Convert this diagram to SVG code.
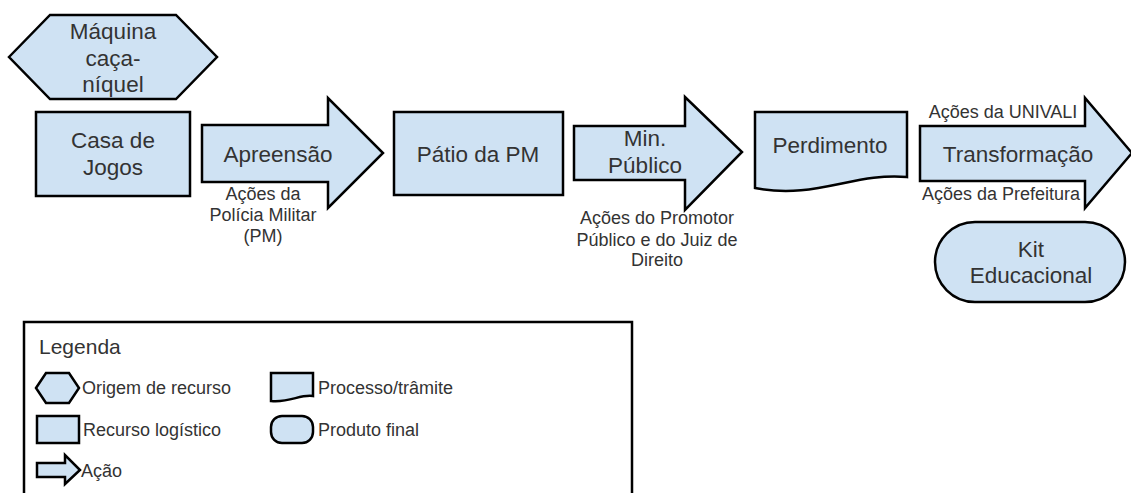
<svg xmlns="http://www.w3.org/2000/svg" width="1131" height="493" viewBox="0 0 1131 493">
<style>
.s{fill:#cfe2f3;stroke:#000;stroke-width:2.5;stroke-linejoin:miter}
.t{font-family:"Liberation Sans",Arial,sans-serif;font-size:22.5px;fill:#333;text-anchor:middle}
.c{font-family:"Liberation Sans",Arial,sans-serif;font-size:18px;fill:#333;text-anchor:middle}
.l{font-family:"Liberation Sans",Arial,sans-serif;font-size:18px;fill:#333}
</style>
<rect width="1131" height="493" fill="#fff"/>
<g id="maquina">
<polygon class="s" points="9,57 50,15 176,15 217,57 176,99 50,99"/>
<text class="t" x="113" y="39">Máquina</text>
<text class="t" x="113" y="66">caça-</text>
<text class="t" x="113" y="92">níquel</text>
</g>
<g id="casa">
<rect class="s" x="36" y="112" width="154" height="84"/>
<text class="t" x="113" y="148">Casa de</text>
<text class="t" x="113" y="175">Jogos</text>
</g>
<g id="connectors">
<g id="apreensao">
<polygon class="s" points="202,125 328,125 328,98 383,153 328,208 328,182 202,182"/>
<text class="t" x="278" y="162">Apreensão</text>
<text class="c" x="263" y="200">Ações da</text>
<text class="c" x="263" y="221">Polícia Militar</text>
<text class="c" x="263" y="242">(PM)</text>
</g>
<g id="minpublico">
<polygon class="s" points="574,126 685,126 685,97 742,152 685,210 685,180 574,180"/>
<text class="t" x="645" y="146">Min.</text>
<text class="t" x="645" y="173">Público</text>
<text class="c" x="657" y="224">Ações do Promotor</text>
<text class="c" x="657" y="246">Público e do Juiz de</text>
<text class="c" x="657" y="266">Direito</text>
</g>
<g id="transformacao">
<polygon class="s" points="920,126 1085,126 1085,98 1132,153 1085,208 1085,181 920,181"/>
<text class="t" x="1018" y="162">Transformação</text>
<text class="c" x="1003" y="118">Ações da UNIVALI</text>
<text class="c" x="1001" y="200">Ações da Prefeitura</text>
</g>
</g>
<g id="patio">
<rect class="s" x="394" y="112" width="169" height="83"/>
<text class="t" x="478" y="162">Pátio da PM</text>
</g>
<g id="perdimento">
<path class="s" d="M755,112 H907 V177 C855,172 815,200 755,188 Z"/>
<text class="t" x="830" y="153">Perdimento</text>
</g>
<g id="kit">
<rect class="s" x="935" y="222" width="190" height="80" rx="40" ry="40"/>
<text class="t" x="1031" y="257">Kit</text>
<text class="t" x="1031" y="283">Educacional</text>
</g>
<g id="legenda">
<rect x="24" y="322" width="608" height="200" fill="#fff" stroke="#000" stroke-width="2.5"/>
<text class="l" x="39" y="354" style="font-size:21px">Legenda</text>
<polygon class="s" points="36,388 46,373 69,373 79,388 69,403 46,403"/>
<text class="l" x="82" y="394">Origem de recurso</text>
<rect class="s" x="37" y="416" width="42" height="27"/>
<text class="l" x="83" y="436">Recurso logístico</text>
<polygon class="s" points="37,463 65,463 65,455 80,470 65,484 65,477 37,477"/>
<text class="l" x="81" y="477">Ação</text>
<path class="s" d="M271,373 H313 V396 C300,394 290,403 271,401 Z"/>
<text class="l" x="318" y="394">Processo/trâmite</text>
<rect class="s" x="271" y="416" width="42" height="27" rx="11" ry="11"/>
<text class="l" x="318" y="436">Produto final</text>
</g>
</svg>
